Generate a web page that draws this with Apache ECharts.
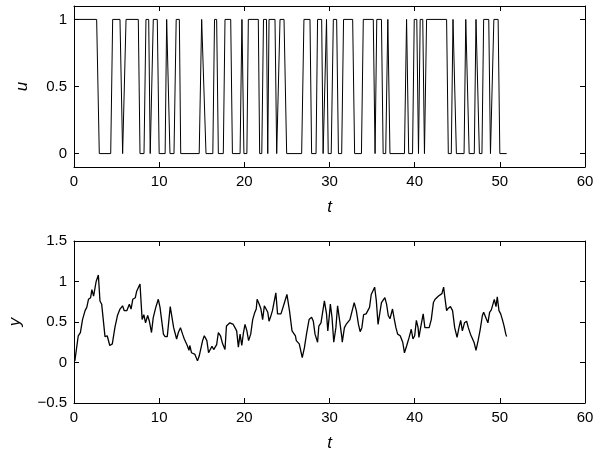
<!DOCTYPE html>
<html>
<head>
<meta charset="utf-8">
<script src="https://cdn.jsdelivr.net/npm/echarts@6/dist/echarts.min.js"></script>
<style>html,body{margin:0;padding:0;background:#fff}#c{width:599px;height:452px}</style>
</head>
<body>
<div id="c"></div>
<script>
// x ticks shared by both panels
var xTicks = [0, 10, 20, 30, 40, 50, 60];
var uTicks = [0, 0.5, 1];
var yTicks = [-0.5, 0, 0.5, 1, 1.5];

// input signal u (breakpoints)
var uT = [0,2.66,2.97,4.31,4.54,5.40,5.71,6.11,7.55,7.75,8.22,8.45,8.77,8.95,9.12,9.31,9.78,10.0,10.7,10.88,11.0,11.27,11.74,12.0,12.37,12.53,14.7,14.99,15.18,15.5,16.3,16.5,16.75,16.95,17.53,17.73,18.4,18.6,19.5,19.72,19.95,20.3,20.47,21.64,21.8,22.05,22.25,22.6,22.75,22.9,23.6,23.8,24.0,24.19,24.66,24.97,26.73,27.0,27.71,27.9,28.42,28.6,29.08,29.25,29.45,29.65,29.85,30.2,30.45,30.84,31.05,31.43,31.65,32.72,32.95,33.75,33.97,35.14,35.35,35.55,36.1,36.3,36.6,36.85,37.1,38.8,39.05,39.3,39.75,39.95,40.25,40.45,40.65,40.95,41.15,41.4,43.75,43.95,44.3,44.5,44.7,44.9,45.8,46.0,46.2,46.4,47.0,47.2,47.4,47.6,47.9,48.1,48.7,48.9,49.1,49.3,49.8,50.0,50.8];
var uV = [1,1,0,0,1,1,0,1,1,0,0,1,1,0,0,1,1,0,0,1,1,0,0,1,1,0,0,1,1,0,0,1,1,0,0,1,1,0,0,1,0,0,1,1,0,0,1,1,0,1,1,0,0,1,1,0,0,1,1,0,0,1,1,0,0,1,0,0,1,1,0,0,1,1,0,0,1,1,0,1,1,0,0,1,0,0,1,0,0,1,1,0,1,1,0,1,1,0,0,1,1,0,0,1,1,0,0,1,1,0,0,1,1,0,0,1,1,0,0];

// output y
var yT = [0.1,0.5,0.75,1.0,1.3,1.5,1.7,1.95,2.1,2.3,2.6,2.86,3.05,3.25,3.64,3.9,4.2,4.5,4.8,5.1,5.4,5.7,5.9,6.2,6.5,6.7,6.9,7.2,7.36,7.55,7.75,8.0,8.2,8.4,8.65,8.85,9.1,9.3,9.6,9.9,10.1,10.5,10.7,10.95,11.3,11.5,11.7,12.05,12.25,12.5,12.75,12.95,13.15,13.3,13.5,13.6,13.8,14.0,14.2,14.5,14.7,14.9,15.1,15.3,15.6,15.8,16.0,16.2,16.4,16.55,16.75,16.95,17.2,17.45,17.73,17.9,18.1,18.3,18.5,18.7,18.9,19.1,19.3,19.5,19.7,19.9,20.08,20.3,20.5,20.75,20.98,21.2,21.4,21.5,21.75,21.95,22.15,22.35,22.55,22.75,22.9,23.1,23.3,23.5,23.7,23.9,24.1,24.3,24.6,25.0,25.3,25.6,25.8,26.0,26.1,26.45,26.65,26.8,27.05,27.3,27.6,27.9,28.1,28.3,28.5,28.6,28.75,29.0,29.4,29.65,29.8,30.0,30.1,30.3,30.5,30.75,30.95,31.2,31.45,31.5,31.75,31.95,32.4,32.9,33.15,33.4,33.6,33.8,34.0,34.3,34.5,34.7,34.9,35.1,35.3,35.5,35.7,35.9,36.1,36.3,36.5,36.7,36.9,37.1,37.3,37.4,37.6,37.8,38.0,38.3,38.6,38.8,39.07,39.35,39.6,39.8,40.0,40.2,40.4,40.5,40.7,41.0,41.2,41.45,41.7,41.95,42.2,42.4,42.6,42.8,42.98,43.2,43.4,43.55,43.75,43.95,44.2,44.45,44.7,44.98,45.2,45.4,45.6,45.85,46.1,46.3,46.55,46.8,47.0,47.2,47.45,47.7,47.95,48.1,48.3,48.6,48.8,49.0,49.2,49.35,49.55,49.7,49.9,50.1,50.3,50.5,50.7,50.8];
var yV = [0.02,0.33,0.37,0.53,0.64,0.68,0.78,0.8,0.9,0.82,1.0,1.08,0.76,0.72,0.32,0.33,0.21,0.23,0.43,0.58,0.66,0.70,0.64,0.64,0.72,0.66,0.78,0.80,0.88,0.90,0.97,0.53,0.59,0.49,0.58,0.51,0.37,0.55,0.68,0.78,0.68,0.35,0.32,0.32,0.69,0.56,0.43,0.29,0.37,0.43,0.35,0.29,0.30,0.21,0.15,0.21,0.12,0.14,0.10,0.02,0.08,0.06,0.27,0.33,0.27,0.12,0.16,0.20,0.16,0.18,0.22,0.37,0.33,0.23,0.16,0.45,0.43,0.49,0.51,0.47,0.43,0.39,0.19,0.35,0.21,0.37,0.47,0.39,0.27,0.35,0.53,0.61,0.66,0.78,0.72,0.66,0.53,0.70,0.66,0.62,0.51,0.57,0.64,0.62,0.86,0.60,0.58,0.60,0.70,0.84,0.64,0.39,0.37,0.33,0.27,0.23,0.23,0.06,0.18,0.35,0.53,0.56,0.51,0.35,0.33,0.25,0.45,0.49,0.76,0.60,0.39,0.60,0.72,0.55,0.25,0.43,0.70,0.51,0.31,0.25,0.43,0.47,0.53,0.74,0.64,0.47,0.38,0.43,0.59,0.60,0.62,0.68,0.84,0.83,0.93,0.76,0.47,0.49,0.74,0.75,0.80,0.72,0.58,0.54,0.55,0.66,0.54,0.43,0.35,0.33,0.25,0.12,0.21,0.31,0.41,0.29,0.33,0.52,0.43,0.31,0.43,0.60,0.43,0.43,0.43,0.53,0.74,0.78,0.80,0.82,0.84,0.85,0.93,0.80,0.64,0.67,0.69,0.64,0.43,0.31,0.43,0.52,0.39,0.49,0.51,0.43,0.35,0.29,0.24,0.15,0.27,0.41,0.58,0.62,0.60,0.49,0.62,0.65,0.67,0.78,0.69,0.81,0.64,0.60,0.53,0.45,0.35,0.32];

function zip(a, b) { var r = []; for (var i = 0; i < a.length; i++) r.push([a[i], b[i]]); return r; }

var FONT = 'Liberation Sans';
var txt = { color: '#000', fontFamily: FONT, fontSize: 15 };
function minus(v) { return v < 0 ? '\u2212' + Math.abs(v) : String(v); }

function xAx(grid, pos, labels, name) {
  return {
    type: 'value', gridIndex: grid, position: pos, min: 0, max: 60, interval: 10,
    axisLine: { show: true, onZero: false, lineStyle: { color: '#000', width: 1 } },
    axisTick: { show: true, inside: true, length: 5, lineStyle: { color: '#000' } },
    axisLabel: Object.assign({ show: labels, margin: 7 }, txt),
    splitLine: { show: false },
    name: name || '', nameLocation: 'middle', nameGap: 32,
    nameTextStyle: { color: '#000', fontFamily: FONT, fontSize: 17, fontStyle: 'italic' }
  };
}
function yAx(grid, pos, labels, min, max, ticks, name, gap) {
  return {
    type: 'value', gridIndex: grid, position: pos, min: min, max: max,
    axisLine: { show: true, onZero: false, lineStyle: { color: '#000', width: 1 } },
    axisTick: { show: true, inside: true, length: 5, customValues: ticks, lineStyle: { color: '#000' } },
    axisLabel: Object.assign({ show: labels, margin: 7, customValues: ticks, formatter: minus }, txt),
    splitLine: { show: false },
    name: name || '', nameLocation: 'middle', nameGap: gap || 40, nameRotate: 90,
    nameTextStyle: { color: '#000', fontFamily: FONT, fontSize: 17, fontStyle: 'italic' }
  };
}

var chart = echarts.init(document.getElementById('c'), null, { renderer: 'canvas' });
chart.setOption({
  backgroundColor: '#fff',
  animation: false,
  grid: [
    { left: 74, top: 6, width: 511, height: 161, outerBoundsMode: 'none', containLabel: false },
    { left: 74, top: 241, width: 511, height: 162, outerBoundsMode: 'none', containLabel: false }
  ],
  xAxis: [
    xAx(0, 'bottom', true, 't'),
    xAx(0, 'top', false),
    xAx(1, 'bottom', true, 't'),
    xAx(1, 'top', false)
  ],
  yAxis: [
    yAx(0, 'left', true, -0.1, 1.1, uTicks, 'u', 43),
    yAx(0, 'right', false, -0.1, 1.1, uTicks),
    yAx(1, 'left', true, -0.5, 1.5, yTicks, 'y', 50),
    yAx(1, 'right', false, -0.5, 1.5, yTicks)
  ],
  series: [
    { type: 'line', xAxisIndex: 0, yAxisIndex: 0, data: zip(uT, uV), showSymbol: false,
      lineStyle: { color: '#000', width: 1 } },
    { type: 'line', xAxisIndex: 2, yAxisIndex: 2, data: zip(yT, yV), showSymbol: false,
      lineStyle: { color: '#000', width: 1.3 } }
  ]
});
</script>
</body>
</html>
